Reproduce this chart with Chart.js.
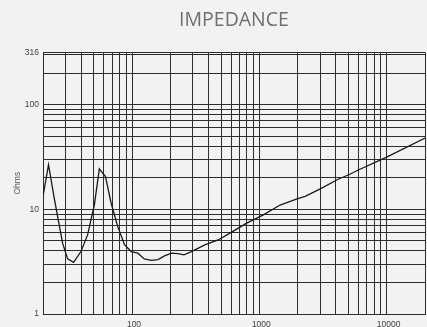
<!DOCTYPE html>
<html>
<head>
<meta charset="utf-8">
<script src="https://cdn.jsdelivr.net/npm/chart.js@4.4.0/dist/chart.umd.min.js"></script>
<style>
  html, body { margin: 0; padding: 0; background: #f1f2f4; overflow: hidden; }
  #wrap { width: 427px; height: 334px; }
</style>
</head>
<body>
<div id="wrap"><canvas id="impedanceChart" width="427" height="334"></canvas></div>
<script>
// impedance curve, frequency in Hz and magnitude in ohms
const freqHz = [20, 22.1, 24.5, 26.8, 28.5, 31.2, 34.8, 39.7, 44.8, 50.6, 55.4, 61.9, 68.5, 77.3, 87.3, 98.6,
    111, 125, 142, 160, 180, 204, 230, 256, 293, 373, 475, 588, 795, 1076, 1455, 1978, 2290, 3010, 4195,
    5040, 6050, 10000, 20000];
const ohms = [13.3, 26.7, 12.8, 7.1, 4.75, 3.36, 3.12, 3.95, 5.7, 11.0, 24.4, 20.6, 11.5, 6.84, 4.6, 3.95,
    3.81, 3.36, 3.26, 3.31, 3.59, 3.81, 3.78, 3.67, 3.95, 4.57, 5.1, 5.92, 7.38, 8.86, 11.0, 12.6, 13.3, 15.7, 19.5,
    21.4, 23.9, 31.6, 48];

// grid lines and labelled ticks
const xTicks = [20, 30, 40, 50, 60, 70, 80, 90, 100, 200, 300, 400, 500, 600, 700, 800, 900,
    1000, 2000, 3000, 4000, 5000, 6000, 7000, 8000, 9000, 10000, 20000];
const xLabels = [100, 1000, 10000];
const yTicks = [1, 2, 3, 4, 5, 6, 7, 8, 9, 10, 20, 30, 40, 50, 60, 70, 80, 90, 100, 200, 300, 316];
const yLabels = [1, 10, 100, 316];

const gridColor = '#2e2e2e';
const labelFont = { family: 'Liberation Sans', size: 8.5 };

const points = freqHz.map((f, i) => ({ x: f, y: ohms[i] }));

const ctx = document.getElementById('impedanceChart').getContext('2d');
new Chart(ctx, {
    type: 'line',
    data: {
        datasets: [{
            data: points,
            borderColor: '#1a1a1a',
            borderWidth: 1.3,
            pointRadius: 0,
            fill: false,
            tension: 0
        }]
    },
    options: {
        responsive: false,
        animation: false,
        layout: { padding: { left: 0, right: 2, top: 0, bottom: 0 } },
        plugins: {
            legend: { display: false },
            tooltip: { enabled: false },
            title: {
                display: true,
                text: 'IMPEDANCE',
                fullSize: false,
                color: '#6f6f6f',
                font: { family: 'Open Sans', size: 19.5, weight: 'normal' },
                padding: { top: 9, bottom: 20 }
            }
        },
        scales: {
            x: {
                type: 'logarithmic',
                min: 20,
                max: 20000,
                afterBuildTicks: s => { s.ticks = xTicks.map(v => ({ value: v })); },
                // fixed height, and no side padding reserved for the unlabelled end ticks
                afterFit: s => { s.height = 20; s.paddingLeft = 0; s.paddingRight = 0; },
                ticks: {
                    autoSkip: false,
                    maxRotation: 0,
                    padding: 6,
                    labelOffset: 2,
                    color: '#444',
                    font: labelFont,
                    callback: v => xLabels.includes(v) ? String(v) : ''
                },
                grid: { color: gridColor, lineWidth: 1, drawTicks: false },
                border: { color: gridColor }
            },
            y: {
                type: 'logarithmic',
                min: 1,
                max: 316,
                afterBuildTicks: s => { s.ticks = yTicks.map(v => ({ value: v })); },
                afterFit: s => { s.width = 43; },
                ticks: {
                    autoSkip: false,
                    padding: 4,
                    color: '#444',
                    font: labelFont,
                    callback: v => yLabels.includes(v) ? String(v) : ''
                },
                grid: { color: gridColor, lineWidth: 1, drawTicks: false },
                border: { color: gridColor },
                title: {
                    display: true,
                    text: 'Ohms',
                    color: '#555',
                    font: labelFont,
                    padding: { top: 13, bottom: 0 }
                }
            }
        }
    }
});
</script>
</body>
</html>
